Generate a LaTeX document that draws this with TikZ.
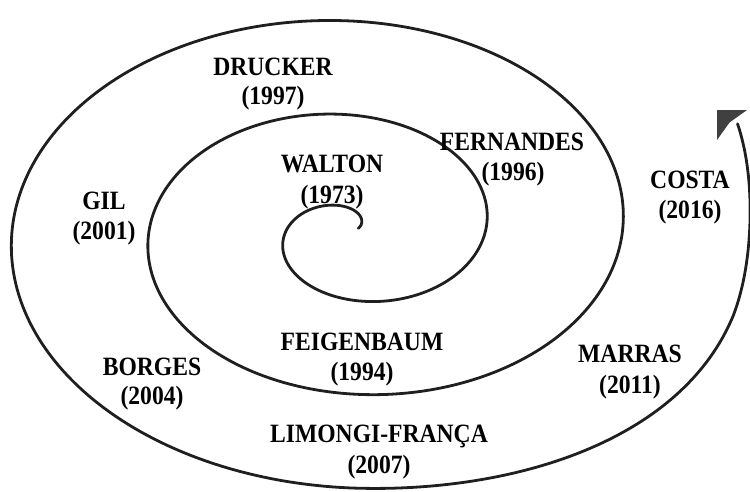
\documentclass[tikz,border=0pt]{standalone}
\usepackage{fontspec}
\setmainfont{Liberation Serif}
\newcommand\talltxt[1]{\scalebox{1}[1.12]{#1}}
\begin{document}
\begin{tikzpicture}[x=1pt,y=-1pt,
  lbl/.style={font=\fontsize{23.6}{28}\selectfont\bfseries, inner sep=0pt, anchor=center},
  spiralline/.style={line width=2.8pt, draw=black!88, line cap=round, line join=round}]
\useasboundingbox (0,0) rectangle (750,491);
% spiral
\draw[spiralline]
  plot[domain=28:990, samples=700, variable=\t]
    ({351.5+(68.5*(\t/180)-3)*cos(\t)}, {231-(47*(\t/180)-1.5)*sin(\t)})
  -- plot[domain=990:1062, samples=60, variable=\t]
    ({351.5+(68.5*(\t/180)-3)*cos(\t)+15*sin(2.5*(\t-990))}, {231-(47*(\t/180)-1.5)*sin(\t)})
  -- plot[domain=1062:1102, samples=40, variable=\t]
    ({351.5+(68.5*(\t/180)-3)*cos(\t)-10*sin(4.5*(\t-1062))}, {231-(47*(\t/180)-1.5)*sin(\t)});
% arrowhead
\coordinate (tipA) at (717,110);
\coordinate (tipB) at (747,110);
\coordinate (tipN) at (729.5,122.5);
\coordinate (tipC) at (717,140);
\fill[black!75] (tipA) -- (tipB) -- (tipN) -- (tipC) -- cycle;
% labels
\node[lbl] (drucker) at (273,67) {\talltxt{DRUCKER}};
\node[lbl] (druckery) at (273,98) {\talltxt{(1997)}};
\node[lbl] (fernandes) at (512,142) {\talltxt{FERNANDES}};
\node[lbl] (fernandesy) at (513,174) {\talltxt{(1996)}};
\node[lbl] (walton) at (332,164) {\talltxt{WALTON}};
\node[lbl] (waltony) at (332,197) {\talltxt{(1973)}};
\node[lbl] (gil) at (104,201) {\talltxt{GIL}};
\node[lbl] (gily) at (104,233) {\talltxt{(2001)}};
\node[lbl] (costa) at (690,180) {\talltxt{COSTA}};
\node[lbl] (costay) at (690,212) {\talltxt{(2016)}};
\node[lbl] (feigenbaum) at (362,342) {\talltxt{FEIGENBAUM}};
\node[lbl] (feigenbaumy) at (362,374) {\talltxt{(1994)}};
\node[lbl] (borges) at (152,367) {\talltxt{BORGES}};
\node[lbl] (borgesy) at (152,398) {\talltxt{(2004)}};
\node[lbl] (marras) at (630,354) {\talltxt{MARRAS}};
\node[lbl] (marrasy) at (630,387) {\talltxt{(2011)}};
\node[lbl] (limongi) at (379,436) {\talltxt{LIMONGI-FRANÇA}};
\node[lbl] (limongiy) at (379,467) {\talltxt{(2007)}};
\end{tikzpicture}
\end{document}
